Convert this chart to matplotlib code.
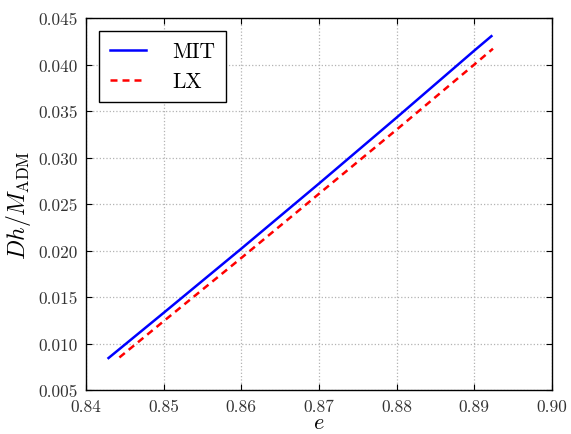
import matplotlib
matplotlib.use("Agg")
import matplotlib.pyplot as plt
from matplotlib.ticker import FormatStrFormatter

plt.rcParams['font.family'] = ['cmr10', 'DejaVu Serif']
plt.rcParams['mathtext.fontset'] = 'cm'
plt.rcParams['axes.formatter.use_mathtext'] = True

# data
e_mit = [0.8429, 0.85, 0.86, 0.87, 0.88, 0.89, 0.8922]
dh_mit = [0.00844, 0.0133, 0.0202, 0.0272, 0.0343, 0.0415, 0.04305]
e_lx = [0.8443, 0.85, 0.86, 0.87, 0.88, 0.89, 0.8924]
dh_lx = [0.0085, 0.0124, 0.0192, 0.0261, 0.0330, 0.0400, 0.0417]
xticks = [0.84, 0.85, 0.86, 0.87, 0.88, 0.89, 0.90]
yticks = [0.005, 0.010, 0.015, 0.020, 0.025, 0.030, 0.035, 0.040, 0.045]

fig = plt.figure(figsize=(5.71, 4.35), dpi=100)
ax = fig.add_axes([0.1506, 0.1011, 0.8161, 0.8552])

ax.plot(e_mit, dh_mit, color='blue', lw=1.8, label='MIT')
ax.plot(e_lx, dh_lx, color='red', lw=1.8, linestyle=(0, (2.8, 2.0)), label='LX')

ax.set_xlim(0.84, 0.90)
ax.set_ylim(0.005, 0.045)
ax.set_xticks(xticks)
ax.set_yticks(yticks)
ax.xaxis.set_major_formatter(FormatStrFormatter('%.2f'))
ax.yaxis.set_major_formatter(FormatStrFormatter('%.3f'))
ax.tick_params(direction='in', top=True, right=True, length=4.5, width=0.8,
               labelsize=12.5, pad=6, colors='black', labelcolor='#333333')
ax.grid(True, color='0.7', linestyle=':', lw=0.9)
for s in ax.spines.values():
    s.set_linewidth(1.0)

ax.set_xlabel(r'$e$', fontsize=16, labelpad=-1)
ax.set_ylabel(r'$Dh/M_{\rm ADM}$', fontsize=17, labelpad=4)

leg = ax.legend(loc='upper left', fontsize=15.5, fancybox=False, framealpha=1,
                edgecolor='black', handlelength=1.7, handletextpad=1.2,
                borderpad=0.5, labelspacing=0.5, borderaxespad=0.6)
leg.get_frame().set_linewidth(1.0)

fig.savefig('out.png', dpi=100)
